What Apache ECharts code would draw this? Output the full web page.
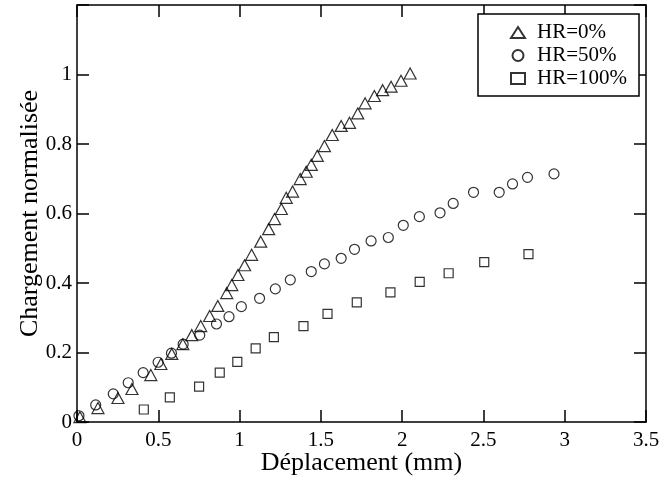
<!DOCTYPE html>
<html>
<head>
<meta charset="utf-8">
<script src="https://cdn.jsdelivr.net/npm/echarts@6/dist/echarts.min.js"></script>
<style>html,body{margin:0;padding:0;background:#fff}#c{width:660px;height:481px}</style>
</head>
<body>
<div id="c"></div>
<script>
var xTicks = [0, 0.5, 1, 1.5, 2, 2.5, 3, 3.5];
var yTicks = [0, 0.2, 0.4, 0.6, 0.8, 1];
var seriesNames = ['HR=0%', 'HR=50%', 'HR=100%'];

var hr0x = [0.018,0.129,0.252,0.338,0.454,0.516,0.583,0.651,0.706,0.761,0.816,0.866,0.921,0.952,0.990,1.031,1.074,1.130,1.179,1.215,1.257,1.287,1.326,1.373,1.410,1.441,1.478,1.522,1.570,1.625,1.676,1.727,1.772,1.829,1.880,1.932,1.993,2.049];
var hr0y = [0.014,0.040,0.069,0.095,0.135,0.167,0.196,0.224,0.250,0.276,0.305,0.334,0.371,0.394,0.423,0.451,0.481,0.519,0.555,0.584,0.613,0.645,0.663,0.699,0.720,0.740,0.766,0.794,0.826,0.852,0.861,0.888,0.917,0.938,0.955,0.965,0.982,1.003];

var hr50x = [0.012,0.115,0.223,0.315,0.407,0.499,0.581,0.653,0.755,0.858,0.935,1.011,1.123,1.220,1.312,1.441,1.522,1.625,1.707,1.809,1.915,2.007,2.106,2.233,2.314,2.439,2.597,2.679,2.771,2.934];
var hr50y = [0.018,0.049,0.081,0.113,0.142,0.172,0.198,0.224,0.250,0.282,0.303,0.332,0.356,0.383,0.409,0.433,0.455,0.471,0.497,0.521,0.531,0.566,0.591,0.602,0.629,0.661,0.661,0.685,0.704,0.714];

var hr100x = [0.411,0.571,0.751,0.878,0.986,1.099,1.211,1.393,1.541,1.721,1.928,2.108,2.286,2.505,2.777];
var hr100y = [0.036,0.071,0.102,0.142,0.173,0.212,0.244,0.276,0.311,0.344,0.373,0.403,0.428,0.460,0.483];

function pairs(xs, ys){ return xs.map(function(x,i){ return [x, ys[i]]; }); }

var FONT = 'Liberation Serif';
var chart = echarts.init(document.getElementById('c'), null, {renderer:'canvas'});

var tickStyle = {show:true, inside:true, length:12, lineStyle:{color:'#000', width:1.5}};
var lineStyle = {show:true, onZero:false, lineStyle:{color:'#000', width:1.5}};

function mk(name, data, symbol, size){
  return {
    name: name, type:'scatter', data: data, symbol: symbol, symbolSize: size,
    itemStyle:{color:'rgba(255,255,255,0)', borderColor:'#000', borderWidth:1.2},
    emphasis:{disabled:true}, animation:false, z: 3
  };
}

chart.setOption({
  animation:false,
  backgroundColor:'#fff',
  grid:{left:77, right:14, top:5, bottom:59, containLabel:false, outerBoundsMode:'none'},
  legend:{
    orient:'vertical', left:478, top:14,
    backgroundColor:'#fff', borderColor:'#000', borderWidth:1.5,
    padding:[8, 12, 7, 32], itemGap:2, itemWidth:14, itemHeight:11,
    textStyle:{fontFamily:FONT, fontSize:21, color:'#000', padding:[0,0,0,7]},
    data: seriesNames.map(function(n){ return {name:n}; })
  },
  xAxis:[{
    type:'value', min:xTicks[0], max:xTicks[xTicks.length-1], interval:0.5,
    axisLine:lineStyle, axisTick:tickStyle, splitLine:{show:false},
    axisLabel:{fontFamily:FONT, fontSize:21, color:'#000', margin:8},
    name:'Déplacement (mm)', nameLocation:'middle', nameGap:28, nameMoveOverlap:false,
    nameTextStyle:{fontFamily:FONT, fontSize:26, color:'#000'}
  },{
    type:'value', position:'top', min:0, max:3.5, interval:0.5,
    axisLine:lineStyle, axisTick:tickStyle, axisLabel:{show:false}, splitLine:{show:false}
  }],
  yAxis:[{
    type:'value', min:0, max:1.2, interval:0.2,
    axisLine:lineStyle, axisTick:tickStyle, splitLine:{show:false},
    axisLabel:{fontFamily:FONT, fontSize:21, color:'#000', margin:5,
      formatter:function(v){ var r = Math.round(v*10)/10; return yTicks.indexOf(r) >= 0 ? String(r) : ''; }},
    name:'Chargement normalisée', nameLocation:'middle', nameGap:34, nameMoveOverlap:false,
    nameTextStyle:{fontFamily:FONT, fontSize:26, color:'#000'}
  },{
    type:'value', position:'right', min:0, max:1.2, interval:0.2,
    axisLine:lineStyle, axisTick:tickStyle, axisLabel:{show:false}, splitLine:{show:false}
  }],
  series:[
    mk(seriesNames[0], pairs(hr0x, hr0y), 'triangle', [12,11]),
    mk(seriesNames[1], pairs(hr50x, hr50y), 'circle', 10),
    mk(seriesNames[2], pairs(hr100x, hr100y), 'rect', 9)
  ]
});
</script>
</body>
</html>
